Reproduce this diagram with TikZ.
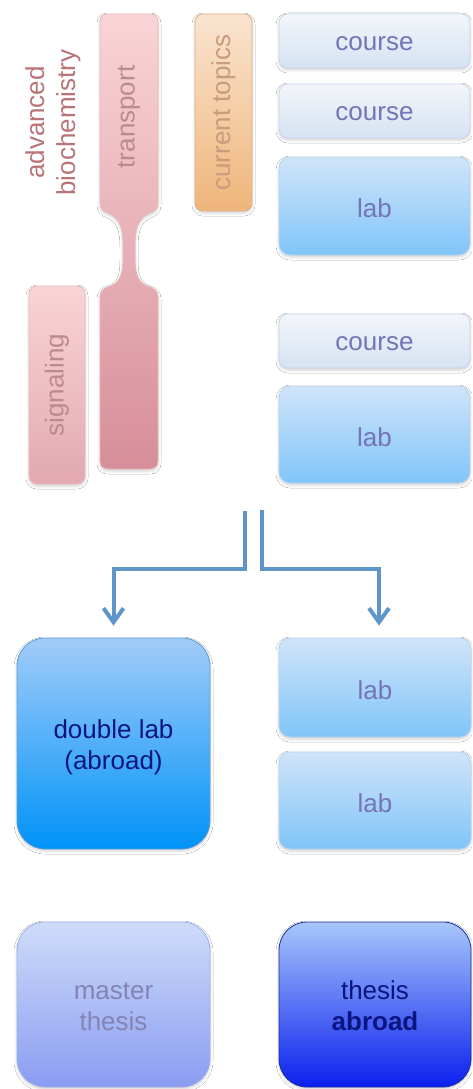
\documentclass[tikz,border=0pt]{standalone}
\usepackage{fontspec}
\setmainfont{Liberation Sans}
\usetikzlibrary{arrows.meta,shadows.blur,calc}
\definecolor{crsTop}{HTML}{F3F5F9}
\definecolor{crsBot}{HTML}{D6E3F3}
\definecolor{crsLine}{HTML}{C6D6EC}
\definecolor{labTop}{HTML}{D0E4F9}
\definecolor{labBot}{HTML}{80C5F9}
\definecolor{labLine}{HTML}{B4D2F0}
\definecolor{txtA}{HTML}{7474B8}
\definecolor{dblTop}{HTML}{A2CCF9}
\definecolor{dblBot}{HTML}{0093F8}
\definecolor{dblLine}{HTML}{5A9AD6}
\definecolor{navy}{HTML}{0A1580}
\definecolor{msTop}{HTML}{CEDCF9}
\definecolor{msBot}{HTML}{8A9CF2}
\definecolor{msLine}{HTML}{9EAEE6}
\definecolor{msTxt}{HTML}{8484B4}
\definecolor{thTop}{HTML}{A8C6FA}
\definecolor{thBot}{HTML}{0A20EE}
\definecolor{thLine}{HTML}{1E2C9C}
\definecolor{pkTop}{HTML}{F9D4D6}
\definecolor{pkBot}{HTML}{D68E99}
\definecolor{sgBot}{HTML}{E2A9B0}
\definecolor{pkLine}{HTML}{E8B8BC}
\definecolor{pkTxt}{HTML}{BC8A8C}
\definecolor{abTxt}{HTML}{B87476}
\definecolor{orTop}{HTML}{FAE4D0}
\definecolor{orBot}{HTML}{EFB57A}
\definecolor{orLine}{HTML}{DDB088}
\definecolor{orTxt}{HTML}{C89C7C}
\definecolor{arrC}{HTML}{5F95C8}
\newcommand{\twolines}[2]{\begin{tabular}{@{}c@{}}\rule{0pt}{29.7pt}#1\\#2\end{tabular}}
\tikzset{
  txt/.style={font=\fontsize{26}{31}\selectfont, inner sep=0pt},
  shad/.style={blur shadow={shadow xshift=0pt,shadow yshift=-2pt,shadow blur radius=3pt,shadow opacity=18}},
  box/.style={shape=rectangle, inner sep=0pt, line width=0.8pt, shad, txt},
  coursebox/.style={box, rounded corners=9pt, top color=crsTop, bottom color=crsBot, draw=crsLine, text=txtA, minimum width=191pt, minimum height=54pt, text height=18.5pt, text depth=0pt},
  labbox/.style={box, rounded corners=11pt, top color=labTop, bottom color=labBot, draw=labLine, text=txtA, minimum width=191pt, text height=23.3pt, text depth=0pt},
  bigbox/.style={box, rounded corners=28pt, minimum width=193pt},
  pinkbox/.style={box, rounded corners=8pt, top color=pkTop, bottom color=sgBot, draw=pkLine},
  orbox/.style={box, rounded corners=8pt, top color=orTop, bottom color=orBot, draw=orLine},
  vtext/.style={txt, rotate=90},
  arr/.style={draw=arrC, line width=4pt, -{Straight Barb[length=14pt,width=20pt]}}
}
\begin{document}
\begin{tikzpicture}[x=1pt,y=-1pt]
\useasboundingbox[fill=white] (0,0) rectangle (472,1089);
% right column, top
\node[coursebox] (c1) at (374.5,41) {course};
\node[coursebox] (c2) at (374.5,111) {course};
\node[labbox, minimum height=98pt] (l1) at (374.5,206) {lab};
\node[coursebox] (c3) at (374.5,341) {course};
\node[labbox, minimum height=97pt] (l2) at (374.5,434.5) {lab};
% current topics
\node[orbox, minimum width=57pt, minimum height=197pt] (ct) at (223.5,112.5) {};
\node[vtext, text=orTxt] (ctt) at (ct.center) {current topics};
% signaling
\node[pinkbox, minimum width=56pt, minimum height=198pt] (sg) at (57,385) {};
\node[vtext, text=pkTxt] (sgt) at (sg.center) {signaling};
% transport shape
\path[shad, top color=pkTop, bottom color=pkBot, draw=pkLine, line width=0.8pt]
  (100,22) -- (100,203) .. controls (100,209) and (103,211) .. (108,213)
  .. controls (120,218) and (123,228) .. (123,245) -- (123,258)
  .. controls (123,275) and (120,283) .. (108,287)
  .. controls (103,289) and (100,291) .. (100,297) -- (100,461)
  .. controls (100,466) and (103,469) .. (108,469) -- (150,469)
  .. controls (155,469) and (158,466) .. (158,461) -- (158,297)
  .. controls (158,291) and (155,289) .. (150,287)
  .. controls (138,283) and (135,275) .. (135,258) -- (135,245)
  .. controls (135,228) and (138,218) .. (150,213)
  .. controls (155,211) and (158,209) .. (158,203) -- (158,22)
  .. controls (158,17) and (155,14) .. (150,14) -- (108,14)
  .. controls (103,14) and (100,17) .. (100,22) -- cycle;
\node[vtext, text=pkTxt] (trt) at (129,117) {transport};
% advanced biochemistry
\node[vtext, text=abTxt, align=center] (ab) at (53,122.5) {advanced\\biochemistry};
% lower part
\node[bigbox, minimum height=211pt, top color=dblTop, bottom color=dblBot, draw=dblLine, text=navy] (dbl) at (113.5,743.5) {\twolines{double lab}{(abroad)}};
\node[labbox, minimum height=99pt, minimum width=192pt] (l3) at (375,687.5) {lab};
\node[labbox, minimum height=97pt, minimum width=192pt] (l4) at (375,800.5) {lab};
\node[bigbox, minimum height=165pt, top color=msTop, bottom color=msBot, draw=msLine, text=msTxt] (ms) at (113.5,1004.5) {\twolines{master}{thesis}};
\node[bigbox, minimum width=192pt, minimum height=165pt, top color=thTop, bottom color=thBot, draw=thLine, text=navy] (th) at (375,1004.5) {\twolines{thesis}{\textbf{abroad}}};
% arrows
\coordinate (s1) at (244.5,511);
\coordinate (s2) at (262,510);
\coordinate (jn) at (0,569);
\draw[arr, shorten >=12pt] (s1) -- (s1 |- jn) -| (dbl.north);
\draw[arr, shorten >=12pt] (s2) -- (s2 |- jn) -| ([xshift=4pt]l3.north);
\end{tikzpicture}
\end{document}
